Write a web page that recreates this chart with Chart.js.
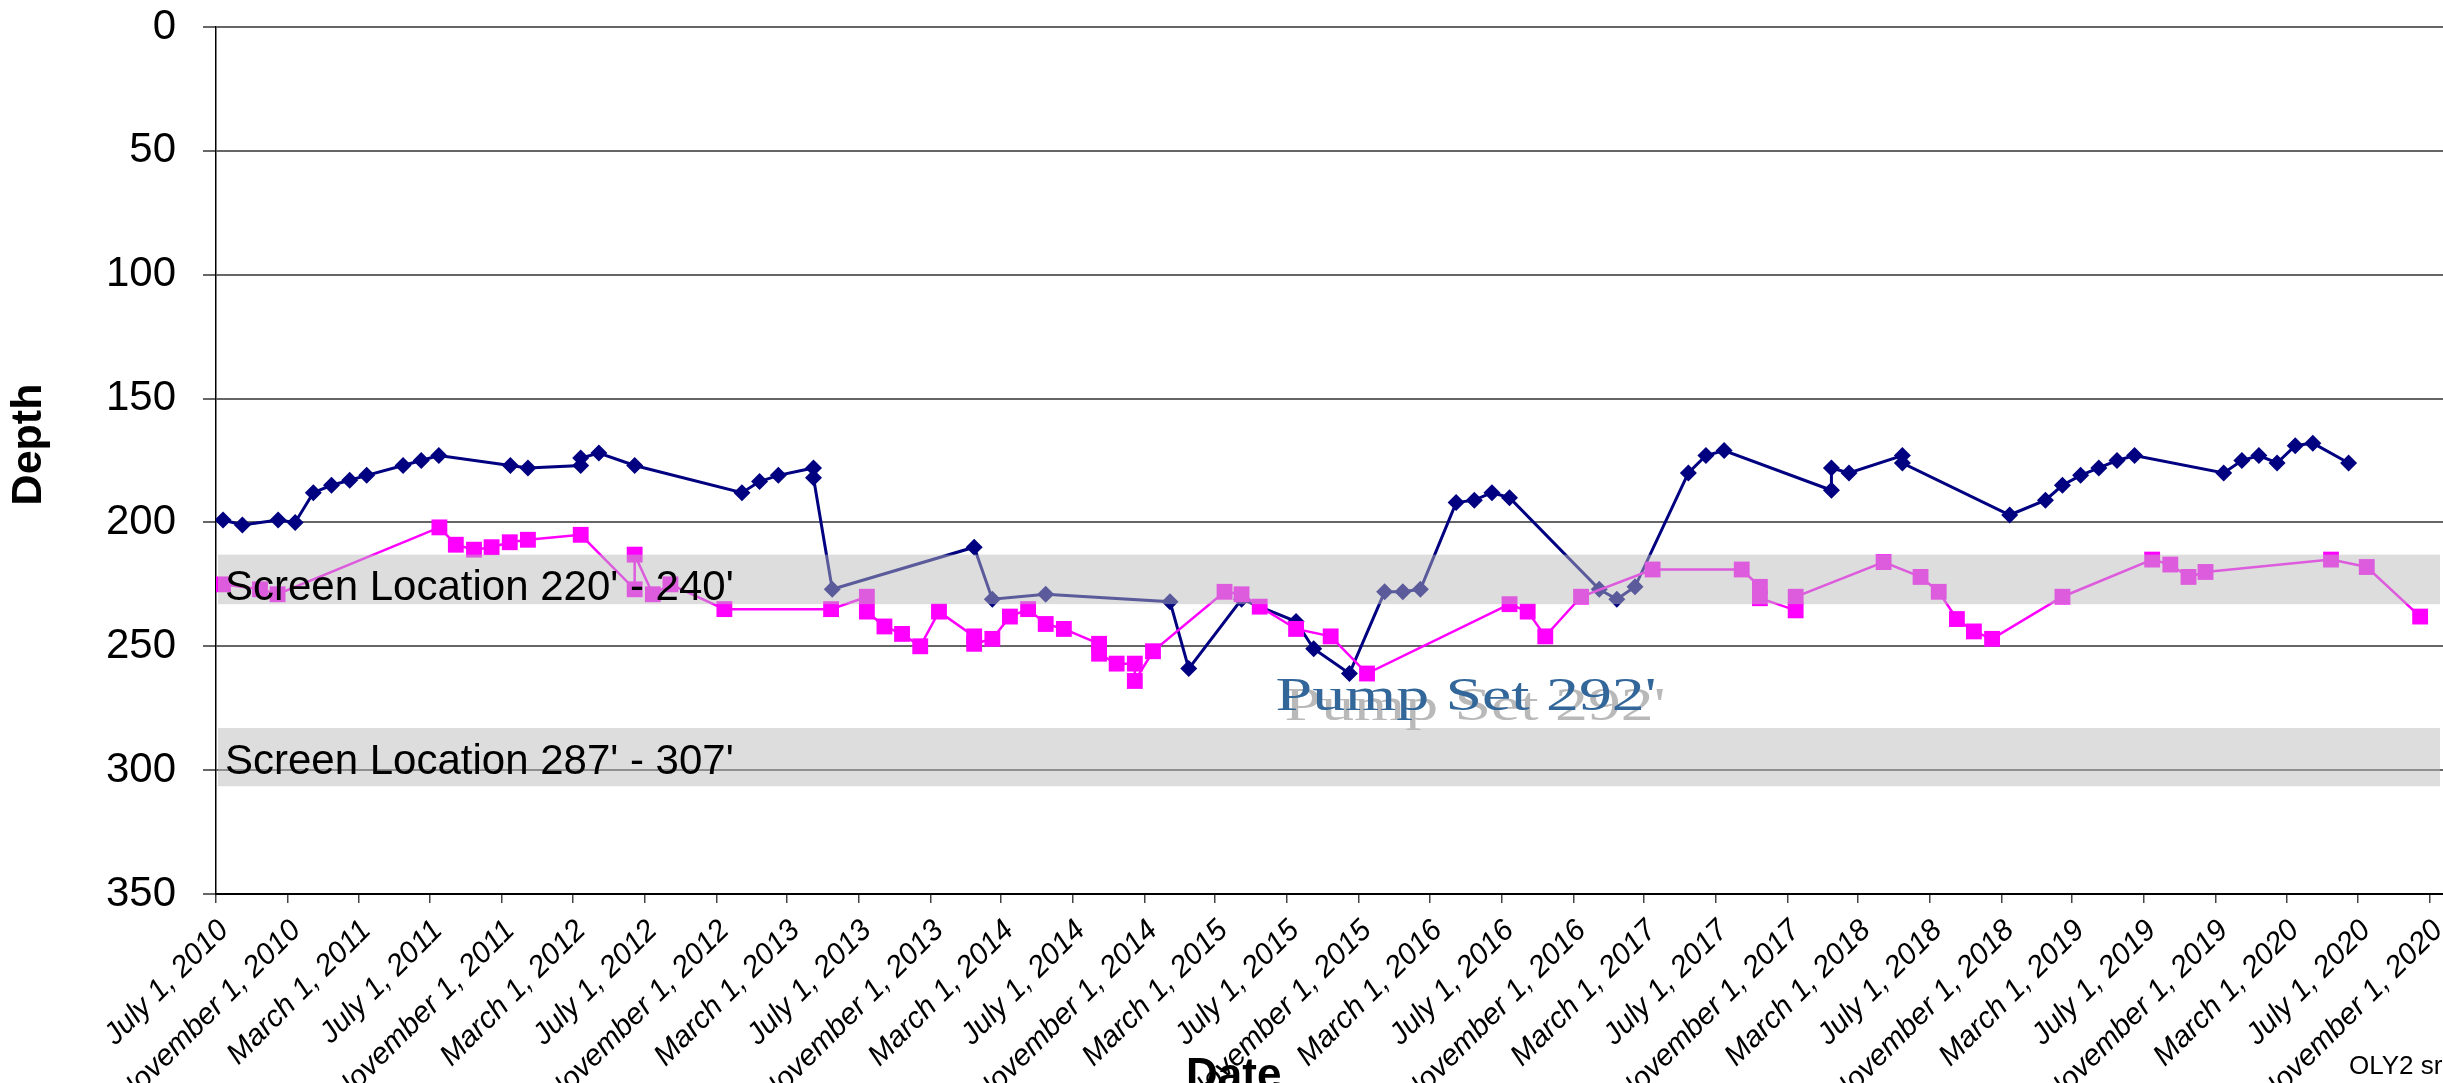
<!DOCTYPE html>
<html>
<head>
<meta charset="utf-8">
<script src="https://cdn.jsdelivr.net/npm/chart.js@4.4.1/dist/chart.umd.min.js"></script>
<style>
html,body{margin:0;padding:0;background:#fff;overflow:hidden}
canvas{display:block}
</style>
</head>
<body>
<canvas id="c" width="2443" height="1083"></canvas>
<script>
// ---------- data ----------
const tickDates = ["2010-07-01","2010-11-01","2011-03-01","2011-07-01","2011-11-01","2012-03-01","2012-07-01","2012-11-01",
  "2013-03-01","2013-07-01","2013-11-01","2014-03-01","2014-07-01","2014-11-01","2015-03-01","2015-07-01","2015-11-01",
  "2016-03-01","2016-07-01","2016-11-01","2017-03-01","2017-07-01","2017-11-01","2018-03-01","2018-07-01","2018-11-01",
  "2019-03-01","2019-07-01","2019-11-01","2020-03-01","2020-07-01","2020-11-01"];
const tickLabels = ["July 1, 2010","November 1, 2010","March 1, 2011","July 1, 2011","November 1, 2011","March 1, 2012",
  "July 1, 2012","November 1, 2012","March 1, 2013","July 1, 2013","November 1, 2013","March 1, 2014","July 1, 2014",
  "November 1, 2014","March 1, 2015","July 1, 2015","November 1, 2015","March 1, 2016","July 1, 2016","November 1, 2016",
  "March 1, 2017","July 1, 2017","November 1, 2017","March 1, 2018","July 1, 2018","November 1, 2018","March 1, 2019",
  "July 1, 2019","November 1, 2019","March 1, 2020","July 1, 2020","November 1, 2020"];

const staticDates = ["2010-07-13","2010-08-15","2010-10-15","2010-11-13","2010-12-14","2011-01-14","2011-02-14","2011-03-15",
  "2011-05-16","2011-06-16","2011-07-16","2011-11-15","2011-12-15","2012-03-14","2012-03-14","2012-04-14","2012-06-14",
  "2012-12-14","2013-01-13","2013-02-14","2013-04-15","2013-04-15","2013-05-17","2014-01-14","2014-02-14","2014-05-16",
  "2014-12-14","2015-01-15","2015-04-15","2015-07-17","2015-08-16","2015-10-16","2015-12-15","2016-01-15","2016-02-14",
  "2016-04-15","2016-05-16","2016-06-15","2016-07-15","2016-12-15","2017-01-14","2017-02-14","2017-05-16","2017-06-15",
  "2017-07-16","2018-01-15","2018-01-15","2018-02-14","2018-05-16","2018-05-16","2018-11-15","2019-01-15","2019-02-13",
  "2019-03-16","2019-04-16","2019-05-17","2019-06-16","2019-11-15","2019-12-16","2020-01-14","2020-02-14","2020-03-16",
  "2020-04-15","2020-06-15"];
const staticDepth = [199,201,199,200,188,185,183,181,
  177,175,173,177,178,177,174,172,177,
  188,183.5,181,178,182,227,210,231,229,
  232,259,231,240,251,261,228,228,227,
  192,191,188,190,227,231,226,180,173,
  171,187,178,180,173,176,197,191,185,
  181,178,175,173,180,175,173,176,169,
  168,176];

const pumpDates = ["2010-07-13","2010-09-14","2010-10-14","2011-07-17","2011-08-14","2011-09-14","2011-10-14","2011-11-14",
  "2011-12-15","2012-03-14","2012-06-14","2012-06-14","2012-07-15","2012-08-14","2012-11-14","2013-05-15","2013-07-15",
  "2013-07-15","2013-08-14","2013-09-13","2013-10-14","2013-11-15","2014-01-14","2014-01-14","2014-02-14","2014-03-16",
  "2014-04-16","2014-05-16","2014-06-16","2014-08-15","2014-08-15","2014-09-14","2014-10-15","2014-10-15","2014-11-15",
  "2015-03-17","2015-04-15","2015-05-16","2015-07-17","2015-09-14","2015-11-15","2016-07-15","2016-08-15","2016-09-14",
  "2016-11-14","2017-03-16","2017-08-15","2017-09-15","2017-09-15","2017-11-15","2017-11-15","2018-04-14","2018-06-16",
  "2018-07-17","2018-08-17","2018-09-15","2018-10-16","2019-02-13","2019-07-16","2019-08-16","2019-09-16","2019-10-15",
  "2020-05-16","2020-07-16","2020-10-15"];
const pumpDepth = [225,227,229,202,209,211,210,208,
  207,205,227,213,229,225,235,235,230,
  236,242,245,250,236,246,249,247,238,
  235,241,243,249,253,257,257,264,252,
  228,229,234,243,246,261,233,236,246,
  230,219,219,226,230.6,235.5,230,216,222,
  228,239,244,247,230,215,217,222,220,
  215,218,238];

const screenTop = [213, 283];
const screenBottom = [233, 306.5];
const screenLabels = ["Screen Location 220' - 240'", "Screen Location 287' - 307'"];
const pumpSetLabel = "Pump Set 292'";
const yTitle = "Depth";
const xTitle = "Date";
const footnote = "OLY2 sr";

// ---------- helpers ----------
const DAY = 86400000;
const toDay = s => Date.UTC(+s.slice(0,4), +s.slice(5,7) - 1, +s.slice(8,10)) / DAY;
const xMin = toDay("2010-07-01");
const xMax = xMin + 3798;

const overlayPlugin = {
  id: 'overlays',
  afterDatasetsDraw(chart) {
    const {ctx, chartArea: ca, scales} = chart;
    const x = scales.x, y = scales.y;
    ctx.save();
    // translucent screen bands over the data
    ctx.fillStyle = 'rgba(185,185,185,0.49)';
    for (let i = 0; i < screenTop.length; i++) {
      const y0 = y.getPixelForValue(screenTop[i]);
      const y1 = y.getPixelForValue(screenBottom[i]);
      ctx.fillRect(ca.left + 2, y0, (ca.right - 3) - (ca.left + 2), y1 - y0);
    }
    ctx.fillStyle = '#000';
    ctx.font = '42px "Liberation Sans"';
    ctx.textAlign = 'left';
    ctx.textBaseline = 'alphabetic';
    const labelBase = [231.3, 301.6];
    for (let i = 0; i < screenLabels.length; i++) {
      ctx.fillText(screenLabels[i], ca.left + 9, y.getPixelForValue(labelBase[i]));
    }
    // Pump set annotation with shadow
    const px = x.getPixelForValue(toDay("2015-06-12"));
    const py = y.getPixelForValue(275.7);
    ctx.font = '46px "Liberation Serif"';
    ctx.translate(px, py);
    ctx.scale(1.43, 1);
    ctx.fillStyle = '#b9b9b9';
    ctx.fillText(pumpSetLabel, 9 / 1.43, 10);
    ctx.fillStyle = '#33679a';
    ctx.fillText(pumpSetLabel, 0, 0);
    ctx.restore();
  },
  afterDraw(chart) {
    const {ctx, chartArea: ca} = chart;
    ctx.save();
    ctx.fillStyle = '#000';
    // y-axis title
    ctx.font = 'bold 43px "Liberation Sans"';
    ctx.textAlign = 'center';
    ctx.textBaseline = 'middle';
    ctx.translate(29, (ca.top + ca.bottom) / 2 - 16);
    ctx.rotate(-Math.PI / 2);
    ctx.fillText(yTitle, 0, 0);
    ctx.setTransform(1, 0, 0, 1, 0, 0);
    // x-axis title (cut by the lower edge as in the source)
    ctx.textBaseline = 'alphabetic';
    ctx.font = 'bold 44px "Liberation Sans"';
    ctx.textAlign = 'center';
    ctx.fillText(xTitle, chart.width * 0.505, chart.height + 6);
    ctx.font = '26px "Liberation Sans"';
    ctx.textAlign = 'left';
    ctx.fillText(footnote, chart.width - 94, chart.height - 9);
    ctx.restore();
  }
};

new Chart(document.getElementById('c'), {
  type: 'line',
  data: {
    datasets: [
      {
        label: 'Static Water Level',
        data: staticDates.map((d, i) => ({x: toDay(d), y: staticDepth[i]})),
        borderColor: '#000080',
        backgroundColor: '#000080',
        borderWidth: 3,
        pointStyle: 'rectRot',
        pointRadius: 8.5,
        pointHoverRadius: 8.5,
        pointBorderWidth: 0,
        tension: 0,
        order: 1
      },
      {
        label: 'Pumping Water Level',
        data: pumpDates.map((d, i) => ({x: toDay(d), y: pumpDepth[i]})),
        borderColor: '#FF00FF',
        backgroundColor: '#FF00FF',
        borderWidth: 2.5,
        pointStyle: 'rect',
        pointRadius: 11.2,
        pointHoverRadius: 11.2,
        pointBorderWidth: 0,
        tension: 0,
        order: 0
      }
    ]
  },
  options: {
    responsive: false,
    animation: false,
    devicePixelRatio: 1,
    layout: {autoPadding: false, padding: {top: 27, left: 0, right: 0, bottom: 0}},
    plugins: {legend: {display: false}, tooltip: {enabled: false}},
    scales: {
      x: {
        type: 'linear',
        min: xMin,
        max: xMax,
        afterBuildTicks: s => { s.ticks = tickDates.map(d => ({value: toDay(d)})); },
        afterFit: s => { s.height = 189; s.paddingLeft = 0; s.paddingRight = 0; },
        ticks: {
          autoSkip: false,
          minRotation: 45,
          maxRotation: 45,
          padding: 10,
          labelOffset: 8,
          color: '#000',
          font: {family: 'Liberation Sans', size: 30, style: 'italic'},
          callback: (v, i) => tickLabels[i]
        },
        grid: {drawOnChartArea: false, drawTicks: true, tickLength: 9, color: '#444', lineWidth: 1.5},
        border: {display: true, color: '#000', width: 2}
      },
      y: {
        type: 'linear',
        reverse: true,
        min: 0,
        max: 350,
        afterFit: s => { s.width = 216; s.paddingTop = 0; s.paddingBottom = 0; },
        ticks: {stepSize: 50, padding: 27, color: '#000', font: {family: 'Liberation Sans', size: 42}},
        grid: {color: '#666', lineWidth: 2, tickLength: 13},
        border: {display: true, color: '#000', width: 1.5}
      }
    }
  },
  plugins: [overlayPlugin]
});
</script>
</body>
</html>
